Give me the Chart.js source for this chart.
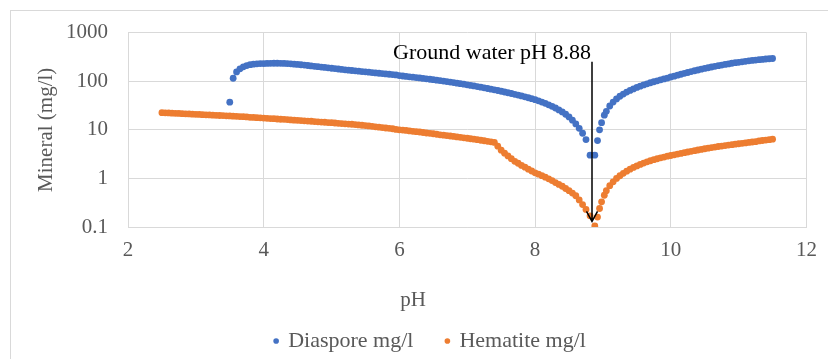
<!DOCTYPE html>
<html>
<head>
<meta charset="utf-8">
<script src="https://cdn.jsdelivr.net/npm/chart.js@4.4.1/dist/chart.umd.min.js"></script>
<style>
  body { margin: 0; background: #fff; }
  canvas { display: block; }
</style>
</head>
<body>
<canvas id="chart" width="828" height="359"></canvas>
<script>
// pH steps (finer round the ground water minimum)
const pH = [
  2.5, 2.55, 2.6, 2.65, 2.7, 2.75, 2.8, 2.85, 2.9, 2.95,
  3.0, 3.05, 3.1, 3.15, 3.2, 3.25, 3.3, 3.35, 3.4, 3.45, 3.5, 3.55, 3.6, 3.65, 3.7, 3.75, 3.8, 3.85, 3.9, 3.95,
  4.0, 4.05, 4.1, 4.15, 4.2, 4.25, 4.3, 4.35, 4.4, 4.45, 4.5, 4.55, 4.6, 4.65, 4.7, 4.75, 4.8, 4.85, 4.9, 4.95,
  5.0, 5.05, 5.1, 5.15, 5.2, 5.25, 5.3, 5.35, 5.4, 5.45, 5.5, 5.55, 5.6, 5.65, 5.7, 5.75, 5.8, 5.85, 5.9, 5.95,
  6.0, 6.05, 6.1, 6.15, 6.2, 6.25, 6.3, 6.35, 6.4, 6.45, 6.5, 6.55, 6.6, 6.65, 6.7, 6.75, 6.8, 6.85, 6.9, 6.95,
  7.0, 7.05, 7.1, 7.15, 7.2, 7.25, 7.3, 7.35, 7.4, 7.45, 7.5, 7.55, 7.6, 7.65, 7.7, 7.75, 7.8, 7.85, 7.9, 7.95,
  8.0, 8.05, 8.1, 8.15, 8.2, 8.25, 8.3, 8.35, 8.4, 8.45, 8.5, 8.55, 8.6, 8.65, 8.7, 8.75,
  8.81, 8.88, 8.92, 8.95, 8.98, 9.02,
  9.05, 9.1, 9.15, 9.2, 9.25, 9.3, 9.35, 9.4, 9.45, 9.5, 9.55, 9.6, 9.65, 9.7, 9.75, 9.8, 9.85, 9.9, 9.95,
  10.0, 10.05, 10.1, 10.15, 10.2, 10.25, 10.3, 10.35, 10.4, 10.45, 10.5, 10.55, 10.6, 10.65, 10.7, 10.75, 10.8, 10.85, 10.9, 10.95,
  11.0, 11.05, 11.1, 11.15, 11.2, 11.25, 11.3, 11.35, 11.4, 11.45, 11.5
]

// mg/l
const diaspore = [
  null, null, null, null, null, null, null, null, null, null,
  null, null, null, null, null, null, null, null, null, null, 37, 115, 155, 180, 198, 210, 219, 224, 228, 230,
  231, 232, 233, 234, 234, 233, 232, 230, 227.5, 224.4, 221.3, 217.8, 214.3, 210.4, 206.5, 202.8, 199.1, 195.4, 191.9, 188.4,
  184.9, 181.6, 178.2, 175, 171.8, 168.7, 166, 163.3, 160.7, 158.1, 155.6, 153.1, 150.7, 148.3, 145.9, 143.6, 141.3, 139, 136.8, 134.6,
  130.3, 127.9, 125.6, 123.3, 121.1, 118.9, 116.7, 114.3, 111.9, 109.6, 107.4, 105.2, 102.8, 100.5, 98.2, 95.9, 93.5, 91.2, 88.9, 86.7,
  84.3, 82, 79.8, 77.4, 75.2, 72.9, 70.8, 68.5, 66.4, 64.3, 62.1, 60, 57.9, 55.8, 53.8, 51.8, 49.8, 47.8, 45.7, 43.7,
  41.6, 39.4, 37.2, 35, 32.7, 30.4, 28.1, 25.7, 23.3, 20.9, 18.4, 15.8, 13.2, 10.7, 8.5, 6.3,
  3, 3, 6, 10, 14, 20,
  24, 30.9, 37.2, 43.2, 49, 54.3, 59.6, 64.6, 69.5, 74.3, 79.1, 83.8, 88.3, 92.9, 97.5, 102, 106.7, 111.2, 116,
  122, 127, 133, 139, 145, 151, 158, 164, 170, 177, 183, 189, 196, 202, 209, 215, 221, 227, 234, 240,
  245, 251, 257, 262, 267, 272, 277, 281, 286, 290, 293
]

const hematite = [
  22.5, 22.3, 22.2, 22.0, 21.8, 21.7, 21.5, 21.3, 21.2, 21.0,
  20.8, 20.7, 20.5, 20.3, 20.2, 20.0, 19.9, 19.7, 19.6, 19.4, 19.3, 19.1, 18.9, 18.7, 18.6, 18.4, 18.1, 18.0, 17.8, 17.6,
  17.4, 17.2, 17.0, 16.9, 16.7, 16.5, 16.4, 16.2, 16.0, 15.8, 15.7, 15.5, 15.3, 15.1, 15.0, 14.8, 14.6, 14.4, 14.3, 14.1,
  14.0, 13.8, 13.6, 13.4, 13.3, 13.1, 13.0, 12.8, 12.6, 12.4, 12.2, 12.0, 11.8, 11.5, 11.3, 11.1, 10.9, 10.7, 10.5, 10.2,
  10.0, 9.85, 9.7, 9.5, 9.3, 9.15, 9.0, 8.8, 8.6, 8.45, 8.3, 8.1, 7.9, 7.75, 7.6, 7.45, 7.3, 7.15, 7.0, 6.85,
  6.7, 6.55, 6.4, 6.25, 6.1, 5.95, 5.8, 5.65, 5.5, 4.6, 3.8, 3.3, 2.9, 2.55, 2.25, 2.05, 1.85, 1.7, 1.55, 1.42,
  1.3, 1.22, 1.14, 1.06, 0.98, 0.9, 0.82, 0.75, 0.69, 0.62, 0.56, 0.5, 0.44, 0.36, 0.29, 0.23,
  0.17, 0.105, 0.16, 0.24, 0.33, 0.45,
  0.56, 0.71, 0.85, 1.0, 1.135, 1.27, 1.41, 1.55, 1.68, 1.81, 1.94, 2.07, 2.19, 2.31, 2.43, 2.54, 2.65, 2.75, 2.86,
  2.96, 3.06, 3.16, 3.27, 3.38, 3.49, 3.61, 3.72, 3.84, 3.95, 4.07, 4.19, 4.31, 4.42, 4.53, 4.63, 4.74, 4.85, 4.95, 5.06,
  5.16, 5.27, 5.38, 5.5, 5.61, 5.71, 5.9, 6.02, 6.14, 6.27, 6.4
]

const yTicks = [0.1, 1, 10, 100, 1000]

// arrow drawn from the label down to the minimum
const groundWater = { ph: 8.84, from: 250, to: 0.13, label: 'Ground water pH 8.88' }

const FONT = '"Liberation Serif", "Times New Roman", serif'
const GREY = '#595959'
const GRID = '#d9d9d9'

const toPoints = vals => pH.map((x, i) => ({ x, y: vals[i] })).filter(p => p.y != null)

const extras = {
  id: 'extras',
  afterLayout(chart) {
    // legend sits right of centre in the original
    const lg = chart.legend
    lg.left += 21; lg.right += 21
    lg.top += 3; lg.bottom += 3
  },
  beforeDraw(chart) {
    const c = chart.ctx
    c.save()
    c.strokeStyle = GRID
    c.lineWidth = 1
    c.strokeRect(10.5, 10.5, chart.width + 20, chart.height + 20)
    c.restore()
  },
  afterDraw(chart) {
    const { ctx: c, scales: { x, y } } = chart
    const ax = Math.round(x.getPixelForValue(groundWater.ph))
    const top = y.getPixelForValue(groundWater.from)
    const tip = y.getPixelForValue(groundWater.to)
    c.save()
    c.strokeStyle = '#000'
    c.lineWidth = 1.5
    c.beginPath()
    c.moveTo(ax, top)
    c.lineTo(ax, tip)
    c.moveTo(ax - 5.5, tip - 10)
    c.lineTo(ax, tip)
    c.lineTo(ax + 5.5, tip - 10)
    c.stroke()

    c.fillStyle = '#000'
    c.font = '22px ' + FONT
    c.textAlign = 'right'
    c.textBaseline = 'alphabetic'
    c.fillText(groundWater.label, ax - 1, top - 2.5)

    // x axis title
    c.fillStyle = GREY
    c.font = '21px ' + FONT
    c.textAlign = 'center'
    c.textBaseline = 'middle'
    c.fillText('pH', 413, 300)
    c.restore()
  }
}

window.addEventListener('load', () => {
  const ctx = document.getElementById('chart').getContext('2d')
  new Chart(ctx, {
    type: 'scatter',
    data: {
      datasets: [
        {
          label: 'Diaspore mg/l',
          data: toPoints(diaspore),
          backgroundColor: '#4472C4',
          borderColor: '#4472C4',
          borderWidth: 0,
          pointRadius: 3.4,
          pointHoverRadius: 3.4,
        },
        {
          label: 'Hematite mg/l',
          data: toPoints(hematite),
          backgroundColor: '#ED7D31',
          borderColor: '#ED7D31',
          borderWidth: 0,
          pointRadius: 3.4,
          pointHoverRadius: 3.4,
        },
      ],
    },
    options: {
      responsive: false,
      animation: false,
      layout: { padding: { left: 10, right: 19, top: 32, bottom: 0 } },
      scales: {
        x: {
          type: 'linear',
          min: 2,
          max: 12,
          ticks: { stepSize: 2, padding: 11, color: GREY, font: { family: FONT, size: 21 } },
          grid: { color: GRID, drawTicks: false },
          border: { color: GRID },
          afterFit: s => { s.height = 67 },
        },
        y: {
          type: 'logarithmic',
          min: 0.1,
          max: 1000,
          afterBuildTicks: s => { s.ticks = yTicks.map(v => ({ value: v })) },
          ticks: {
            padding: 20,
            color: GREY,
            font: { family: FONT, size: 21 },
            callback: v => String(v),
          },
          grid: { color: GRID, drawTicks: false },
          border: { color: GRID },
          title: {
            display: true,
            text: 'Mineral (mg/l)',
            color: GREY,
            font: { family: FONT, size: 21 },
            padding: { top: 24, bottom: 0 },
          },
          afterFit: s => { s.width = 118 },
        },
      },
      plugins: {
        legend: {
          position: 'bottom',
          labels: {
            usePointStyle: true,
            pointStyle: 'circle',
            boxWidth: 2,
            boxHeight: 4,
            padding: 33,
            color: GREY,
            font: { family: FONT, size: 22 },
          },
        },
        tooltip: { enabled: false },
      },
    },
    plugins: [extras],
  })
})
</script>
</body>
</html>
